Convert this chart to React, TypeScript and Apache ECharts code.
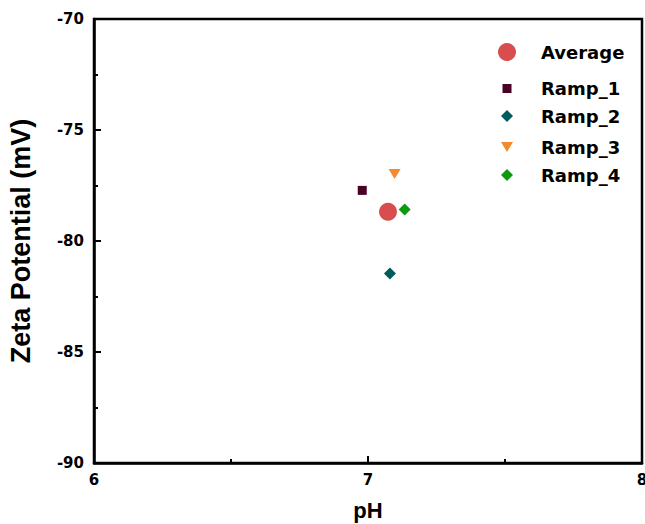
import React, { useEffect, useRef } from "react";
import * as echarts from "echarts";

// Zeta potential readings per ramp and their mean
const seriesNames = ["Average", "Ramp_1", "Ramp_2", "Ramp_3", "Ramp_4"];
const phValues = [7.073, 6.979, 7.08, 7.097, 7.134];
const zetaValues = [-78.68, -77.72, -81.46, -76.98, -78.58];
const seriesColors = ["#d84e4e", "#4b0026", "#005b5b", "#f5892f", "#0e990e"];
const xTicks = [6, 7, 8];
const yTicks = [-90, -85, -80, -75, -70];

const TRIANGLE_DOWN = "path://M0 0L12 0L6 10Z";
const symbols = ["circle", "rect", "diamond", TRIANGLE_DOWN, "diamond"];
const symbolSizes: (number | number[])[] = [18, 9, 12, [12, 10], 12];
const legendIconWidths = [18, 9, 12, 12, 12];
const legendIconHeights = [18, 9, 12, 10, 12];
const legendCenters = [52, 84, 113, 143, 172];

const TICK_FONT = "DejaVu Sans";
const TITLE_FONT = "Liberation Sans, Arial, sans-serif";

// legend column: icon centre and text start (px)
const LEGEND_ICON_X = 507;
const LEGEND_TEXT_X = 541;

export default function App() {
  const ref = useRef<HTMLDivElement>(null);

  useEffect(() => {
    if (!ref.current) return;
    const chart = echarts.init(ref.current, null, { renderer: "svg" });

    const axisLine = { show: true, lineStyle: { color: "#000", width: 2.5 } };

    const legends = seriesNames.map((name, i) => {
      const w = legendIconWidths[i];
      const h = legendIconHeights[i];
      const left = LEGEND_ICON_X - w / 2;
      const textPad = LEGEND_TEXT_X - (left + w + 5);
      return {
        show: true,
        selectedMode: false,
        orient: "vertical",
        left,
        top: legendCenters[i] - h / 2,
        padding: 0,
        itemWidth: w,
        itemHeight: h,
        data: [{ name, icon: symbols[i] }],
        textStyle: {
          fontFamily: TICK_FONT,
          fontWeight: "bold",
          fontSize: 18,
          color: "#000",
          lineHeight: 8,
          padding: [0, 0, 0, textPad],
        },
      };
    });

    chart.setOption({
      animation: false,
      backgroundColor: "#fff",
      grid: {
        left: 94,
        right: 3,
        top: 19,
        bottom: 61,
        outerBoundsMode: "none",
        containLabel: false,
        show: true,
        borderColor: "#000",
        borderWidth: 2.5,
      },
      legend: legends,
      xAxis: {
        type: "value",
        min: xTicks[0],
        max: xTicks[xTicks.length - 1],
        interval: 1,
        name: "pH",
        nameLocation: "middle",
        nameGap: 36,
        nameTextStyle: {
          fontFamily: TITLE_FONT,
          fontWeight: "bold",
          fontSize: 22,
          color: "#000",
        },
        axisLine,
        axisTick: { show: true, inside: true, length: 7, lineStyle: { color: "#000", width: 2 } },
        minorTick: { show: true, splitNumber: 2, length: 4, lineStyle: { color: "#000", width: 2 } },
        splitLine: { show: false },
        axisLabel: {
          margin: 9,
          fontFamily: TICK_FONT,
          fontWeight: "bold",
          fontSize: 15,
          color: "#000",
          showMinLabel: true,
          showMaxLabel: true,
        },
      },
      yAxis: {
        type: "value",
        min: yTicks[0],
        max: yTicks[yTicks.length - 1],
        interval: 5,
        name: "Zeta Potential (mV)",
        nameLocation: "middle",
        nameRotate: 90,
        nameGap: 60,
        nameTextStyle: {
          fontFamily: TITLE_FONT,
          fontWeight: "bold",
          fontSize: 27,
          color: "#000",
        },
        axisLine,
        axisTick: { show: true, inside: true, length: 7, lineStyle: { color: "#000", width: 2 } },
        minorTick: { show: true, splitNumber: 2, length: 4, lineStyle: { color: "#000", width: 2 } },
        splitLine: { show: false },
        axisLabel: {
          margin: 10,
          fontFamily: TICK_FONT,
          fontWeight: "bold",
          fontSize: 15,
          color: "#000",
        },
      },
      series: seriesNames.map((name, i) => ({
        name,
        type: "scatter",
        symbol: symbols[i],
        symbolSize: symbolSizes[i],
        itemStyle: { color: seriesColors[i], opacity: 1 },
        z: i === 0 ? 2 : 3,
        data: [[phValues[i], zetaValues[i]]],
      })),
    });

    return () => chart.dispose();
  }, []);

  return (
    <div
      ref={ref}
      style={{ position: "absolute", left: 0, top: 0, width: 645, height: 524 }}
    />
  );
}
